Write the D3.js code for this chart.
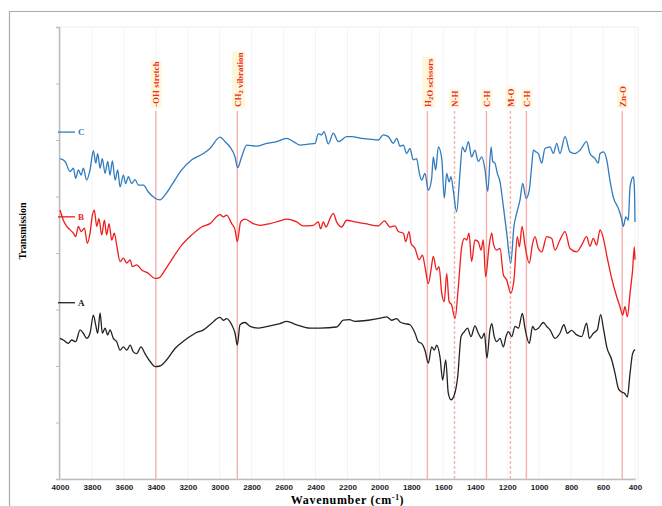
<!DOCTYPE html>
<html>
<head>
<meta charset="utf-8">
<style>
body { margin: 0; background: #fff; }
svg { display: block; font-family: "Liberation Serif", "Times New Roman", serif; }
.axis path, .axis line { stroke: #bdbdbd; }
.axis path { stroke-width: 1.5; }
.axis text { font-weight: bold; font-size: 8px; fill: #222; }
.spectrum { fill: none; stroke-width: 1.3; stroke-linejoin: round; }
.peak-line { stroke: #f5b0b0; stroke-width: 1.4; }
.peak-label { fill: #ec2b25; font-weight: bold; font-size: 9px; }
</style>
</head>
<body>
<svg width="662" height="506"></svg>
<script src="https://d3js.org/d3.v7.min.js"></script>
<script>

// x tick labels (cm-1)
var wnTicks = [4000, 3800, 3600, 3400, 3200, 3000, 2800, 2600, 2400, 2200, 2000,
               1800, 1600, 1400, 1200, 1000, 800, 600, 400];

// band assignments
var peakWn = [3400, 2890, 1700, 1530, 1330, 1180, 1080, 480];
var peakNames = ["-OH stretch", "CH2 vibration", "H2O scissors", "N-H", "C-H", "M-O", "C-H", "Zn-O"];

var seriesNames = ["C", "B", "A"];

// [wavenumber, transmission (offset, a.u.)]
var seriesC = [
  [4000,5.67],[3968,5.62],[3937,5.44],[3916,5.50],[3902,5.32],[3885,5.47],[3868,5.38],[3854,5.50],
  [3833,5.29],[3812,5.47],[3791,5.81],[3776,5.59],[3764,5.76],[3749,5.50],[3735,5.67],[3718,5.41],
  [3701,5.62],[3687,5.38],[3672,5.63],[3655,5.29],[3639,5.47],[3624,5.17],[3603,5.38],[3589,5.23],
  [3572,5.35],[3551,5.23],[3530,5.30],[3509,5.20],[3478,5.20],[3447,5.08],[3405,4.97],[3374,4.94],
  [3342,5.03],[3301,5.20],[3238,5.47],[3175,5.65],[3102,5.76],[3061,5.85],[2998,6.05],[2967,5.97],
  [2936,5.88],[2904,5.70],[2888,5.51],[2863,5.70],[2831,5.91],[2769,5.89],[2706,5.94],[2644,5.97],
  [2581,6.03],[2539,5.97],[2497,5.91],[2435,5.93],[2403,5.94],[2383,6.11],[2362,6.09],[2347,6.15],
  [2320,5.93],[2289,6.12],[2257,5.97],[2205,6.06],[2174,6.06],[2111,6.03],[2049,6.01],[2007,6.00],
  [1976,6.09],[1944,6.06],[1913,5.94],[1892,6.03],[1871,5.89],[1850,5.91],[1830,5.76],[1809,5.85],
  [1788,5.65],[1767,5.67],[1752,5.44],[1736,5.29],[1715,5.41],[1694,5.11],[1673,5.32],[1663,5.70],
  [1648,5.47],[1631,5.88],[1610,5.67],[1594,4.97],[1579,5.41],[1564,5.26],[1552,5.35],[1537,5.09],
  [1517,4.73],[1496,5.41],[1481,5.88],[1464,5.79],[1443,5.97],[1423,5.70],[1402,5.82],[1381,5.62],
  [1360,5.70],[1339,5.47],[1322,5.09],[1301,5.88],[1291,5.62],[1277,5.59],[1262,5.41],[1245,5.26],
  [1224,4.82],[1203,4.35],[1178,3.82],[1158,4.47],[1141,4.70],[1120,4.94],[1103,5.23],[1082,4.97],
  [1062,5.11],[1047,5.53],[1036,5.82],[1020,5.79],[1005,5.76],[984,5.59],[964,5.85],[932,5.88],
  [911,5.76],[890,5.94],[870,5.76],[838,6.06],[807,5.79],[776,5.76],[744,5.82],[703,5.97],
  [682,5.76],[650,5.67],[630,5.59],[619,5.76],[598,5.79],[577,5.65],[557,5.29],[536,4.99],
  [504,4.79],[484,4.61],[473,4.47],[457,4.64],[442,4.58],[431,5.17],[410,5.35],[404,5.17],[400,4.55]
];

var seriesB = [
  [4000,4.76],[3979,4.58],[3958,4.47],[3937,4.41],[3916,4.35],[3902,4.29],[3885,4.47],[3868,4.38],
  [3847,4.44],[3829,4.17],[3812,4.35],[3797,4.67],[3785,4.76],[3770,4.47],[3756,4.61],[3739,4.32],
  [3722,4.58],[3708,4.32],[3693,4.52],[3676,4.23],[3660,4.35],[3645,4.14],[3624,3.85],[3603,3.91],
  [3582,3.82],[3561,3.88],[3547,3.76],[3520,3.79],[3488,3.70],[3447,3.64],[3405,3.55],[3380,3.56],
  [3342,3.70],[3301,3.88],[3238,4.14],[3175,4.32],[3113,4.46],[3061,4.52],[2998,4.68],[2977,4.64],
  [2957,4.67],[2925,4.52],[2904,4.41],[2890,4.20],[2869,4.55],[2842,4.60],[2790,4.52],[2748,4.49],
  [2685,4.52],[2623,4.57],[2581,4.60],[2518,4.55],[2477,4.48],[2414,4.49],[2383,4.55],[2368,4.43],
  [2351,4.55],[2335,4.46],[2305,4.64],[2289,4.70],[2268,4.55],[2237,4.46],[2205,4.58],[2153,4.55],
  [2090,4.52],[2007,4.48],[1969,4.57],[1934,4.46],[1903,4.48],[1882,4.38],[1850,4.35],[1836,4.20],
  [1815,4.38],[1802,4.17],[1777,4.08],[1752,3.88],[1731,3.96],[1715,3.76],[1694,3.46],[1677,3.70],
  [1663,3.94],[1642,3.70],[1627,3.76],[1610,3.29],[1594,3.14],[1579,3.64],[1564,3.14],[1548,3.08],
  [1527,2.84],[1506,3.40],[1485,4.11],[1468,4.26],[1454,4.23],[1439,4.35],[1423,3.85],[1402,4.23],
  [1381,4.20],[1364,4.05],[1350,4.23],[1335,3.58],[1314,4.11],[1297,4.35],[1287,4.17],[1266,4.05],
  [1245,4.08],[1224,3.61],[1203,3.52],[1178,3.29],[1158,3.52],[1137,4.29],[1124,4.11],[1107,4.47],
  [1089,4.14],[1062,3.82],[1041,4.17],[1026,4.29],[1005,4.08],[984,4.02],[953,4.29],[922,4.26],
  [901,4.05],[870,4.23],[838,4.38],[807,4.08],[765,4.02],[734,4.14],[703,4.29],[682,4.12],
  [661,4.26],[640,4.14],[619,4.41],[598,4.26],[577,3.96],[546,3.55],[515,3.23],[494,3.05],
  [477,2.90],[463,3.05],[448,2.87],[431,3.29],[415,3.70],[404,4.11],[400,3.88]
];

var seriesA = [
  [4000,2.49],[3979,2.46],[3948,2.40],[3927,2.46],[3902,2.43],[3874,2.64],[3854,2.58],[3833,2.49],
  [3812,2.58],[3791,2.90],[3776,2.72],[3764,2.58],[3749,2.94],[3735,2.58],[3718,2.67],[3701,2.55],
  [3687,2.64],[3666,2.49],[3645,2.43],[3624,2.28],[3603,2.34],[3582,2.28],[3561,2.37],[3541,2.25],
  [3520,2.22],[3493,2.34],[3468,2.22],[3436,2.08],[3405,1.99],[3374,2.00],[3332,2.11],[3280,2.31],
  [3217,2.46],[3154,2.58],[3102,2.64],[3061,2.73],[2998,2.86],[2977,2.81],[2957,2.84],[2925,2.73],
  [2904,2.58],[2890,2.37],[2873,2.73],[2842,2.77],[2810,2.70],[2758,2.67],[2685,2.71],[2623,2.75],
  [2581,2.79],[2518,2.73],[2435,2.67],[2372,2.67],[2268,2.69],[2226,2.81],[2189,2.82],[2153,2.79],
  [2070,2.81],[1986,2.85],[1955,2.87],[1923,2.81],[1892,2.84],[1871,2.78],[1840,2.75],[1809,2.73],
  [1777,2.58],[1757,2.43],[1736,2.40],[1715,2.28],[1694,2.05],[1673,2.34],[1656,2.28],[1642,2.37],
  [1621,2.16],[1604,1.75],[1585,2.11],[1569,1.52],[1552,1.40],[1531,1.49],[1510,1.81],[1489,2.52],
  [1468,2.61],[1448,2.67],[1427,2.52],[1402,2.71],[1381,2.58],[1360,2.49],[1343,2.58],[1327,2.14],
  [1308,2.64],[1297,2.75],[1281,2.52],[1266,2.43],[1245,2.49],[1224,2.34],[1208,2.52],[1193,2.61],
  [1172,2.52],[1151,2.70],[1130,2.67],[1105,2.93],[1089,2.67],[1062,2.40],[1041,2.70],[1026,2.64],
  [1005,2.67],[974,2.77],[953,2.70],[932,2.64],[901,2.49],[870,2.58],[845,2.73],[824,2.58],
  [797,2.63],[765,2.55],[734,2.52],[703,2.76],[686,2.49],[661,2.58],[636,2.64],[615,2.91],
  [598,2.67],[577,2.34],[546,2.11],[525,1.87],[504,1.60],[484,1.54],[463,1.51],[448,1.45],
  [431,1.87],[415,2.22],[400,2.29]
];

var svg = d3.select("svg"),
    margin = {top: 27, right: 27, bottom: 27, left: 60},
    width = +svg.attr("width") - margin.left - margin.right,
    height = +svg.attr("height") - margin.top - margin.bottom;

var x = d3.scaleLinear().domain([4000, 400]).range([margin.left, margin.left + width]),
    y = d3.scaleLinear().domain([0, 8]).range([margin.top + height, margin.top]);

var colors = {C: "#2f7bbf", B: "#f01c1c", A: "#222222"};
var data = {C: seriesC, B: seriesB, A: seriesA};

// outer frame
svg.append("path")
    .attr("d", "M9.5,506V11.5H662")
    .attr("fill", "none")
    .attr("stroke", "#a9a9a9")
    .attr("stroke-width", 1.2);

// plot frame + faint grid
svg.append("rect")
    .attr("x", margin.left).attr("y", margin.top)
    .attr("width", x(400) - margin.left + 3).attr("height", height)
    .attr("fill", "none").attr("stroke", "#eeeeee");

svg.append("g")
  .selectAll("line")
  .data(wnTicks)
  .join("line")
    .attr("x1", d => x(d)).attr("x2", d => x(d))
    .attr("y1", margin.top).attr("y2", margin.top + height)
    .attr("stroke", "#f4f4f4");

// axes
var xAxis = d3.axisBottom(x).tickValues(wnTicks).tickSize(0).tickPadding(5).tickFormat(d3.format("d"));
var yAxis = d3.axisLeft(y).ticks(8).tickSize(3).tickFormat("");

svg.append("g")
    .attr("class", "axis axis--x")
    .attr("transform", "translate(0," + (margin.top + height) + ")")
    .call(xAxis);

svg.append("g")
    .attr("class", "axis axis--y")
    .attr("transform", "translate(" + (margin.left - 1) + ",0)")
    .call(yAxis);

// band markers
var peaks = svg.append("g").attr("class", "peaks");
var dashed = ["N-H", "M-O"];
var labelBottom = 107;

peakWn.forEach(function(wn, i) {
  var name = peakNames[i];
  peaks.append("line")
      .attr("class", "peak-line")
      .attr("x1", x(wn)).attr("x2", x(wn))
      .attr("y1", labelBottom + 4).attr("y2", margin.top + height)
      .attr("stroke-dasharray", dashed.indexOf(name) >= 0 ? "3,2" : null);

  var g = peaks.append("g")
      .attr("transform", "translate(" + x(wn) + "," + labelBottom + ") rotate(-90)");
  var bg = g.append("rect");
  var t = g.append("text")
      .attr("class", "peak-label")
      .attr("x", 0).attr("y", 3.3);
  name.split(/(\d)/).forEach(function(part, j) {
    if (!part) return;
    if (j % 2) {
      t.append("tspan").attr("font-size", "6.5px").attr("dy", 2).text(part);
      t.append("tspan").attr("dy", -2).text("");
    } else {
      t.append("tspan").text(part);
    }
  });
  var b = t.node().getBBox();
  bg.attr("x", b.x - 1).attr("y", b.y - 0.5)
    .attr("width", b.width + 2).attr("height", b.height + 1)
    .attr("fill", "#fff7d9");
});

// spectra
var line = d3.line()
    .x(d => x(d[0]))
    .y(d => y(d[1]))
    .curve(d3.curveMonotoneX);

seriesNames.forEach(function(n) {
  svg.append("path")
      .datum(data[n])
      .attr("class", "spectrum")
      .attr("stroke", colors[n])
      .attr("d", line);
});

// series keys
var keyY = {C: 6.14, B: 4.64, A: 3.12};
seriesNames.forEach(function(n) {
  svg.append("line")
      .attr("x1", margin.left - 2).attr("x2", margin.left + 15)
      .attr("y1", y(keyY[n])).attr("y2", y(keyY[n]))
      .attr("stroke", colors[n]).attr("stroke-width", 1.3);
  svg.append("text")
      .attr("x", margin.left + 18).attr("y", y(keyY[n]) + 3)
      .attr("fill", colors[n])
      .style("font-weight", "bold").style("font-size", "9px")
      .text(n);
});

// axis titles
var xt = svg.append("text")
    .attr("x", (x(4000) + x(400)) / 2).attr("y", 504)
    .style("text-anchor", "middle")
    .style("font-weight", "bold").style("font-size", "12px")
    .style("letter-spacing", "0.7px");
xt.append("tspan").text("Wavenumber (cm");
xt.append("tspan").attr("dy", -4).style("font-size", "7.5px").text("-1");
xt.append("tspan").attr("dy", 4).text(")");

svg.append("text")
    .attr("transform", "translate(26,231) rotate(-90)")
    .style("text-anchor", "middle")
    .style("font-weight", "bold").style("font-size", "10px")
    .text("Transmission");

</script>
</body>
</html>
